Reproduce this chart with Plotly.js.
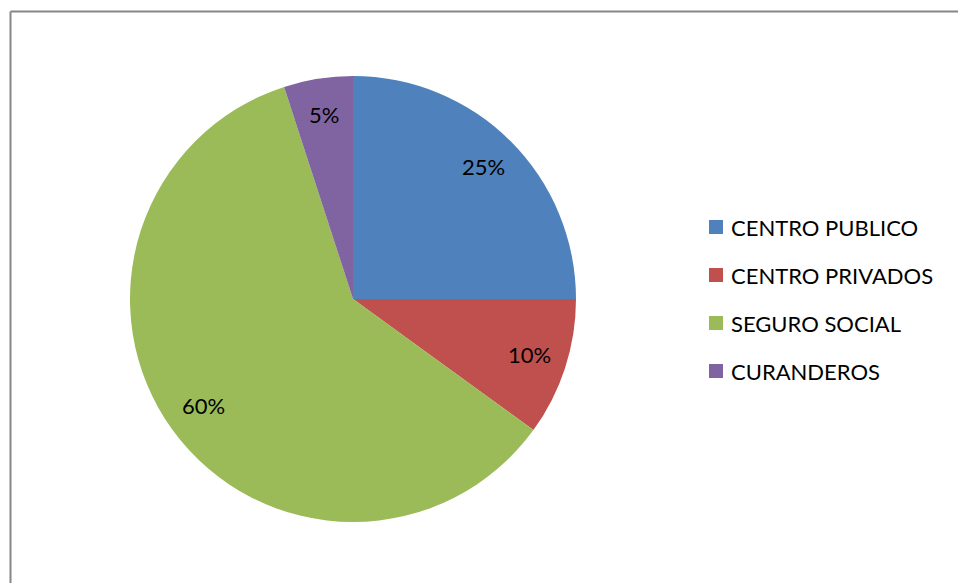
<!DOCTYPE html>
<html>
<head>
<meta charset="utf-8">
<script src="https://cdn.plot.ly/plotly-3.0.1.min.js"></script>
<style>html,body{margin:0;padding:0;background:#fff;}#chart{width:958px;height:583px;}</style>
</head>
<body>
<div id="chart"></div>
<script>
const categories = ["CENTRO PUBLICO", "CENTRO PRIVADOS", "SEGURO SOCIAL", "CURANDEROS"];
const values = [25, 10, 60, 5];
const colors = ["#4F81BD", "#C0504D", "#9BBB59", "#8064A2"];

const W = 958, H = 583;
const FONT = "Lato, 'Open Sans', sans-serif";
const cx = 353, cy = 299, R = 223;
const domX = [(cx - R) / W, (cx + R) / W];
const domY = [1 - (cy + R) / H, 1 - (cy - R) / H];

const total = values.reduce((a, b) => a + b, 0);
const annotations = [];
let cum = 0;
values.forEach((v, i) => {
  const mid = (cum + v / 2) / total * 2 * Math.PI;
  cum += v;
  const rl = 0.83 * R;
  const px = cx + rl * Math.sin(mid);
  const py = cy - rl * Math.cos(mid) - 2;
  annotations.push({
    x: px / W, y: 1 - py / H, xref: "paper", yref: "paper",
    text: Math.round(v / total * 100) + "%", showarrow: false,
    font: {family: FONT, size: 22, color: "#000"}, xanchor: "center", yanchor: "middle"
  });
});

const shapes = [
  {type: "line", xref: "paper", yref: "paper", x0: 10.5 / W, x1: 1, y0: 1 - 11.5 / H, y1: 1 - 11.5 / H, line: {color: "#868686", width: 2}},
  {type: "line", xref: "paper", yref: "paper", x0: 10.5 / W, x1: 10.5 / W, y0: 1 - 11.5 / H, y1: 0, line: {color: "#868686", width: 2}}
];
const legX = 709, legY0 = 227, legDy = 48, sw = 14;
categories.forEach((c, i) => {
  const yc = legY0 + i * legDy;
  shapes.push({type: "rect", xref: "paper", yref: "paper",
    x0: legX / W, x1: (legX + sw) / W, y0: 1 - (yc - sw / 2) / H, y1: 1 - (yc + sw / 2) / H,
    fillcolor: colors[i], line: {width: 0}});
  annotations.push({x: 729 / W, y: 1 - yc / H, xref: "paper", yref: "paper", text: c, showarrow: false,
    xanchor: "left", yanchor: "middle", font: {family: FONT, size: 22, color: "#000"}});
});

const data = [{
  type: "pie",
  labels: categories,
  values: values,
  marker: {colors: colors, line: {width: 0}},
  sort: false,
  direction: "clockwise",
  rotation: 0,
  textinfo: "none",
  hoverinfo: "label+percent",
  domain: {x: domX, y: domY},
  showlegend: false
}];

const layout = {
  width: W, height: H,
  margin: {l: 0, r: 0, t: 0, b: 0},
  paper_bgcolor: "#fff",
  showlegend: false,
  shapes: shapes,
  annotations: annotations
};
Plotly.newPlot("chart", data, layout, {displayModeBar: false, staticPlot: true});
</script>
</body>
</html>
